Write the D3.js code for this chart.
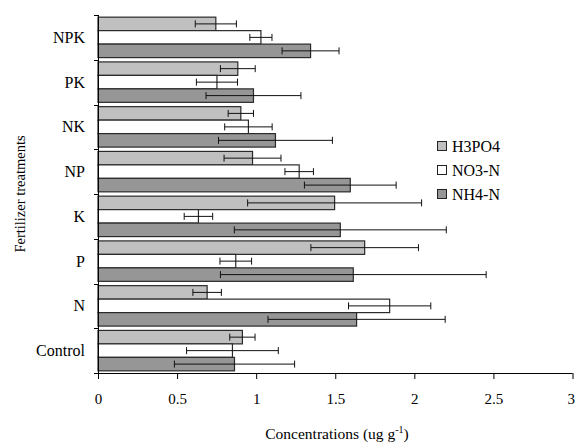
<!DOCTYPE html>
<html>
<head>
<meta charset="utf-8">
<script src="https://cdn.jsdelivr.net/npm/d3@7"></script>
<style>
  html, body { margin: 0; padding: 0; background: #fff; }
  svg { display: block; }
  svg text { font-family: "Times New Roman", Times, "Liberation Serif", "DejaVu Serif", serif; fill: #000; }
</style>
</head>
<body>
<svg id="chart" width="575" height="444"></svg>
<script>
// Treatments, top to bottom
const treatments = ["NPK", "PK", "NK", "NP", "K", "P", "N", "Control"];
const seriesNames = ["H3PO4", "NO3-N", "NH4-N"];
const seriesColors = ["#c0c0c0", "#ffffff", "#969696"];

// Mean concentrations (ug g-1) per treatment
const h3po4 = [0.745, 0.884, 0.903, 0.977, 1.496, 1.686, 0.690, 0.913];
const no3n  = [1.030, 0.752, 0.951, 1.272, 0.635, 0.871, 1.844, 0.850];
const nh4n  = [1.344, 0.983, 1.122, 1.595, 1.532, 1.614, 1.635, 0.863];

// Error (+/-) for each mean
const h3po4Err = [0.13, 0.11, 0.08, 0.18, 0.55, 0.34, 0.09, 0.08];
const no3nErr  = [0.07, 0.13, 0.15, 0.09, 0.09, 0.10, 0.26, 0.29];
const nh4nErr  = [0.18, 0.30, 0.36, 0.29, 0.67, 0.84, 0.56, 0.38];

const xTicks = [0, 0.5, 1, 1.5, 2, 2.5, 3];

const values = [h3po4, no3n, nh4n];
const errors = [h3po4Err, no3nErr, nh4nErr];

const FONT = "'Times New Roman', Times, 'Liberation Serif', 'DejaVu Serif', serif";
const svg = d3.select("#chart");
const margin = { left: 98, top: 15, bottom: 71 };
const W = 575, H = 444;

const x = d3.scaleLinear().domain([0, 3]).range([margin.left, W - 2.5]);
const y = d3.scaleBand().domain(treatments).range([margin.top, H - margin.bottom]).paddingInner(0).paddingOuter(0);
const inner = d3.scaleBand().domain(seriesNames).range([0, y.bandwidth()]).paddingInner(0).paddingOuter(0.16);

const rows = [];
treatments.forEach((t, i) => {
  seriesNames.forEach((s, j) => {
    rows.push({ t, s, j, v: values[j][i], e: errors[j][i] });
  });
});

// Bars
svg.append("g").selectAll("rect").data(rows).join("rect")
  .attr("x", x(0))
  .attr("y", d => y(d.t) + inner(d.s))
  .attr("width", d => x(d.v) - x(0))
  .attr("height", inner.bandwidth())
  .attr("fill", d => seriesColors[d.j])
  .attr("stroke", "#2a2a2a")
  .attr("stroke-width", 1.2);

// Error bars
const eg = svg.append("g").attr("stroke", "#111").attr("stroke-width", 1);
rows.forEach(d => {
  const cy = y(d.t) + inner(d.s) + inner.bandwidth() / 2;
  const x0 = x(d.v - d.e), x1 = x(d.v + d.e);
  eg.append("line").attr("x1", x0).attr("x2", x1).attr("y1", cy).attr("y2", cy);
  [x0, x1].forEach(xx => {
    eg.append("line").attr("x1", xx).attr("x2", xx).attr("y1", cy - 3.5).attr("y2", cy + 3.5);
  });
});

// X axis
const xAxis = d3.axisBottom(x).tickValues(xTicks).tickFormat(d => d3.format("")(d)).tickSizeInner(6).tickSizeOuter(0).tickPadding(14);
const gx = svg.append("g").attr("transform", `translate(0,${H - margin.bottom})`).call(xAxis)
  .attr("font-family", FONT).attr("font-size", 15);
gx.select(".domain").attr("d", `M${x(0) - 4},0.5H${x(3)}`).attr("stroke", "#000");
gx.selectAll(".tick line").attr("stroke", "#000");
gx.selectAll("text").attr("fill", "#000");
// keep the last label inside the right edge
gx.selectAll(".tick").filter(d => d === 3).select("text").attr("text-anchor", "end").attr("x", 2);

// Y axis: ticks at band boundaries, labels at band centres
const gy = svg.append("g").attr("transform", `translate(${x(0)},0)`);
gy.append("line").attr("x1", 0.5).attr("x2", 0.5).attr("y1", margin.top).attr("y2", H - margin.bottom).attr("stroke", "#000");
const bounds = treatments.map(t => y(t)).concat([y(treatments[treatments.length - 1]) + y.bandwidth()]);
gy.selectAll(".bt").data(bounds).join("line")
  .attr("x1", -4).attr("x2", 0.5)
  .attr("y1", d => Math.round(d) + 0.5).attr("y2", d => Math.round(d) + 0.5)
  .attr("stroke", "#000");
gy.selectAll(".lab").data(treatments).join("text")
  .attr("x", -13)
  .attr("y", d => y(d) + y.bandwidth() / 2)
  .attr("dy", "0.35em")
  .attr("text-anchor", "end")
  .attr("font-family", FONT)
  .attr("font-size", 16)
  .text(d => d);

// Axis titles
svg.append("text")
  .attr("transform", `translate(25,${(margin.top + H - margin.bottom) / 2}) rotate(-90)`)
  .attr("text-anchor", "middle")
  .attr("font-family", FONT)
  .attr("font-size", 14.5)
  .text("Fertilizer treatments");

const xt = svg.append("text")
  .attr("x", 337).attr("y", 439)
  .attr("text-anchor", "middle")
  .attr("font-family", FONT)
  .attr("font-size", 15.5);
xt.append("tspan").text("Concentrations (ug g");
xt.append("tspan").attr("font-size", 10).attr("dy", -6).text("-1");
xt.append("tspan").attr("dy", 6).text(")");

// Legend
const lg = svg.append("g").attr("transform", "translate(437,141)");
seriesNames.forEach((s, j) => {
  const row = lg.append("g").attr("transform", `translate(0,${j * 24})`);
  row.append("rect").attr("x", 0.5).attr("y", 0.5).attr("width", 9).attr("height", 9)
    .attr("fill", seriesColors[j]).attr("stroke", "#222").attr("stroke-width", 1);
  row.append("text").attr("x", 15).attr("y", 5.5).attr("dy", "0.35em")
    .attr("font-family", FONT).attr("font-size", 16).text(s);
});
</script>
</body>
</html>
